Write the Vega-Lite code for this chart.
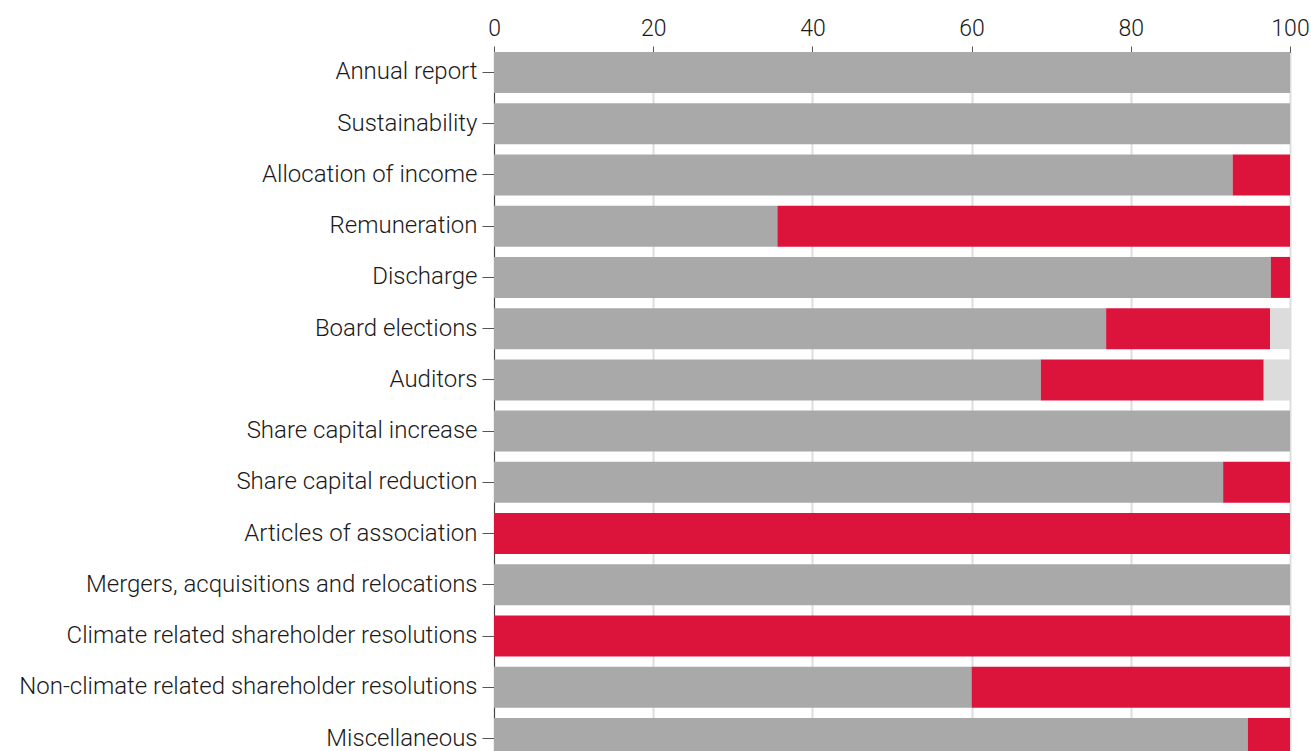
{
  "$schema": "https://vega.github.io/schema/vega-lite/v6.json",
  "autosize": "none",
  "width": 796,
  "height": 707,
  "padding": {"left": 494, "top": 52, "right": 21, "bottom": 0},
  "background": "white",
  "config": {"view": {"stroke": null}, "font": "Roboto"},
  "data": {"values": [
    {"category": "Annual report", "vote": "For", "value": 100},
    {"category": "Sustainability", "vote": "For", "value": 100},
    {"category": "Allocation of income", "vote": "For", "value": 92.8},
    {"category": "Allocation of income", "vote": "Against", "value": 7.2},
    {"category": "Remuneration", "vote": "For", "value": 35.6},
    {"category": "Remuneration", "vote": "Against", "value": 64.4},
    {"category": "Discharge", "vote": "For", "value": 97.6},
    {"category": "Discharge", "vote": "Against", "value": 2.4},
    {"category": "Board elections", "vote": "For", "value": 76.9},
    {"category": "Board elections", "vote": "Against", "value": 20.6},
    {"category": "Board elections", "vote": "Abstain", "value": 2.5},
    {"category": "Auditors", "vote": "For", "value": 68.7},
    {"category": "Auditors", "vote": "Against", "value": 28.0},
    {"category": "Auditors", "vote": "Abstain", "value": 3.3},
    {"category": "Share capital increase", "vote": "For", "value": 100},
    {"category": "Share capital reduction", "vote": "For", "value": 91.6},
    {"category": "Share capital reduction", "vote": "Against", "value": 8.4},
    {"category": "Articles of association", "vote": "Against", "value": 100},
    {"category": "Mergers, acquisitions and relocations", "vote": "For", "value": 100},
    {"category": "Climate related shareholder resolutions", "vote": "Against", "value": 100},
    {"category": "Non-climate related shareholder resolutions", "vote": "For", "value": 60},
    {"category": "Non-climate related shareholder resolutions", "vote": "Against", "value": 40},
    {"category": "Miscellaneous", "vote": "For", "value": 94.7},
    {"category": "Miscellaneous", "vote": "Against", "value": 5.3}
  ]},
  "mark": {"type": "bar"},
  "encoding": {
    "y": {
      "field": "category", "type": "nominal", "sort": null, "title": null,
      "scale": {"paddingInner": 0.2, "paddingOuter": 0},
      "axis": {"labelFontSize": 24, "labelFontWeight": 300, "labelColor": "#1a1a1a", "labelPadding": 5, "tickSize": 12, "tickColor": "#555555", "domainColor": "#444444", "labelLimit": 600}
    },
    "x": {
      "field": "value", "type": "quantitative", "stack": "zero", "title": null,
      "scale": {"domain": [0, 100], "nice": false},
      "axis": {"orient": "top", "values": [0, 20, 40, 60, 80, 100], "labelFontSize": 23, "labelFontWeight": 300, "labelColor": "#1a1a1a", "labelPadding": 6, "tickSize": 6, "tickColor": "#555555", "domainColor": "#444444", "gridColor": "#dddddd", "gridWidth": 2, "labelFlush": false}
    },
    "color": {
      "field": "vote", "type": "nominal", "legend": null,
      "scale": {"domain": ["For", "Against", "Abstain"], "range": ["#a9a9a9", "#dc143c", "#dcdcdc"]}
    },
    "order": {"field": "vote", "sort": "descending"}
  }
}
